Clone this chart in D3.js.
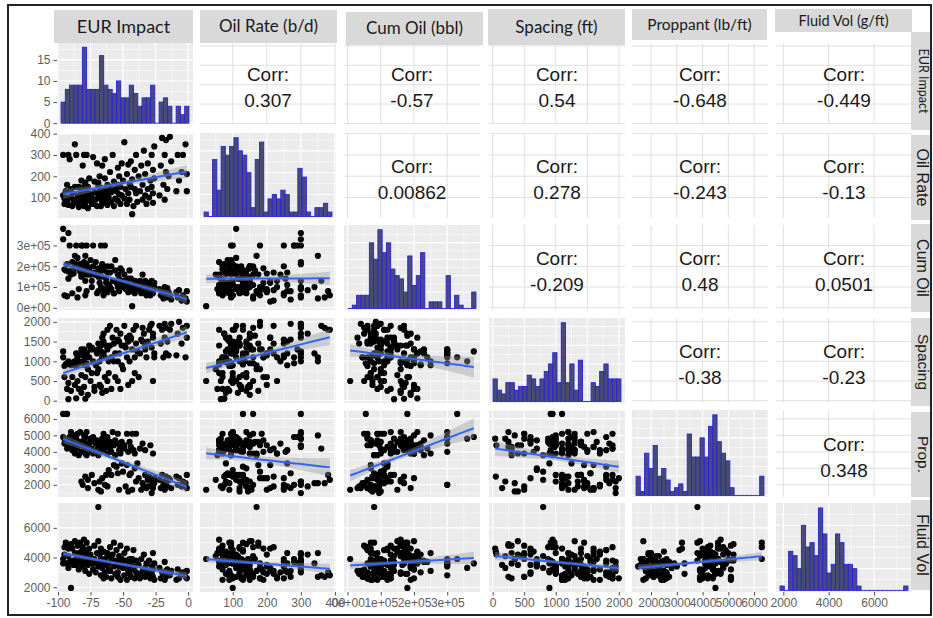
<!DOCTYPE html>
<html>
<head>
<meta charset="utf-8">
<script src="https://cdn.jsdelivr.net/npm/d3@7"></script>
<style>
  body { margin: 0; background: #fff; }
  svg { display: block; }
</style>
</head>
<body>
<svg id="chart" width="933" height="618"></svg>
<script>
// column headers (top strips) and row labels (right strips)
const colLabels = ["EUR Impact", "Oil Rate (b/d)", "Cum Oil (bbl)", "Spacing (ft)", "Proppant (lb/ft)", "Fluid Vol (g/ft)"];
const rowLabels = ["EUR Impact", "Oil Rate", "Cum Oil", "Spacing", "Prop.", "Fluid Vol"];

// one value per well, wells sorted by EUR impact
const eurImpact = [
  -96,-96,-95,-95,-94,-93,-93,-92,-92,-92,
  -91,-90,-90,-89,-89,-88,-87,-87,-86,-86,
  -86,-85,-85,-84,-84,-83,-83,-82,-82,-82,
  -81,-81,-80,-80,-80,-80,-79,-79,-79,-79,
  -78,-78,-78,-77,-77,-76,-76,-75,-75,-74,
  -74,-73,-73,-72,-72,-71,-70,-70,-69,-69,
  -69,-68,-68,-67,-67,-67,-66,-66,-66,-65,
  -65,-65,-64,-64,-63,-63,-62,-62,-62,-61,
  -61,-60,-60,-59,-59,-58,-57,-57,-56,-56,
  -55,-54,-54,-54,-53,-53,-52,-52,-51,-51,
  -50,-49,-49,-48,-47,-47,-46,-46,-45,-45,
  -44,-44,-43,-43,-42,-41,-41,-40,-40,-39,
  -38,-37,-36,-35,-35,-34,-33,-33,-32,-31,
  -31,-30,-29,-28,-28,-27,-27,-27,-26,-26,
  -22,-21,-20,-19,-18,-18,-17,-17,-16,-15,
  -14,-13,-9,-8,-7,-5,-4,-2,-1,-1
];
const oilRate = [
  110,300,95,70,130,85,160,100,300,65,
  280,100,140,60,120,80,350,150,90,75,
  300,110,95,150,55,90,100,130,180,80,
  120,250,300,150,60,110,100,170,75,130,
  300,100,95,150,50,120,190,85,110,70,
  100,290,70,175,125,90,260,60,155,110,
  170,130,200,95,145,60,115,250,80,100,
  140,75,190,280,120,90,160,105,65,135,
  100,220,150,80,125,300,60,175,140,95,
  130,240,85,160,115,200,70,150,260,110,
  180,95,360,140,70,210,120,255,165,90,
  150,270,22,185,60,230,140,300,120,80,
  200,130,250,90,160,320,110,210,70,140,
  260,100,180,300,150,75,230,120,190,340,
  110,250,380,160,300,90,220,370,140,200,
  385,270,130,300,180,220,300,350,130,210
];
// thousand bbl
const cumOil = [
  380,330,60,185,180,210,55,175,360,140,
  300,180,160,220,70,165,250,200,190,210,
  300,240,50,200,90,175,210,150,300,160,
  180,300,220,200,160,200,60,250,170,130,
  210,300,80,190,160,175,190,230,160,100,
  130,300,200,160,170,220,170,70,150,190,
  80,120,165,300,100,150,190,200,210,60,
  85,180,90,300,140,120,200,170,75,95,
  110,170,100,90,200,130,70,70,180,230,
  120,160,100,110,140,80,130,190,110,180,
  100,160,130,90,90,120,75,140,180,110,
  140,80,8,100,110,130,70,90,100,120,
  90,130,70,110,160,85,100,130,60,120,
  80,110,60,95,130,70,100,85,120,100,
  90,60,80,45,100,70,85,50,95,75,
  60,40,75,50,85,35,60,45,80,30
];
const spacing = [
  1250,1100,880,600,920,300,950,450,1000,40,
  950,900,250,920,600,980,1000,400,880,60,
  1200,1100,500,950,300,980,1200,650,1300,200,
  1000,1150,1250,350,950,1300,600,900,50,1100,
  1200,1200,950,150,800,1400,1100,1300,500,700,
  1350,1300,1000,250,350,900,1200,700,1300,1450,
  800,1000,400,1250,350,1400,200,1100,1600,1500,
  1200,1700,600,1100,1400,250,1300,1800,500,1000,
  700,1900,1400,1100,300,1600,1000,1450,600,1200,
  1800,1000,1550,500,1500,1200,300,1700,900,1400,
  800,1400,1900,1350,1100,1600,400,1500,1650,1000,
  1600,1550,500,1300,1800,1100,700,1900,1450,1250,
  600,1200,1550,1500,1850,1700,1400,1300,1100,1450,
  1500,1800,1900,1950,1350,1700,500,1600,1100,1200,
  1900,1450,1800,1100,1950,1600,1200,1850,1500,1150,
  1800,1950,1150,1700,2000,1450,1850,1100,1900,1600
];
const proppant = [
  4900,6300,4800,4500,6300,4200,6300,4400,4800,4800,
  4900,4500,5200,4100,4700,4300,5000,3900,4600,4400,
  4800,4200,5100,4400,3800,4600,5200,4000,4500,2200,
  4600,2000,4300,5000,4700,4100,4900,3900,2500,4500,
  4400,5200,3800,1800,2300,4500,4000,4700,4800,4200,
  2600,4900,3900,4600,2100,4500,4100,4700,1700,4300,
  3800,2200,4400,4000,1600,4600,4800,2400,4300,5100,
  4500,4100,4700,2000,2600,4300,3900,4900,1900,4400,
  2900,4200,4600,2600,4000,5200,4400,3200,4700,3800,
  3100,4500,2700,5100,4100,1700,4300,3900,3300,4600,
  2800,4400,4200,1900,5100,3200,1600,4000,4600,2600,
  4300,2700,1700,5100,4100,3900,3000,5100,2200,3300,
  2400,4200,1700,2100,4500,1900,2600,4100,1800,2300,
  1900,2500,4400,1500,2200,2000,3900,1800,2400,2100,
  2300,1800,2600,2000,2200,1700,2500,2100,1900,2400,
  2300,1800,2500,2000,2400,1900,2200,2100,2600,1800
];
const fluidVol = [
  3600,3900,4700,4200,5000,3600,4700,4100,3300,4600,
  3700,1950,4900,3800,4600,3500,4300,5100,3900,4200,
  3500,3700,4800,3200,4300,5000,3900,4400,3600,4100,
  4700,3400,4200,3900,5200,3600,4500,3100,4400,3800,
  4300,3800,5000,3500,4100,2900,4600,3700,4200,3900,
  3600,3600,3200,4800,3900,3000,4300,3700,5100,3400,
  7400,3500,4200,2800,3900,4600,3300,3700,4400,2600,
  3800,4400,3000,3900,3500,2700,4100,3600,4300,3200,
  3600,4700,3100,3900,2600,4200,3400,5000,2900,3800,
  4500,3000,3700,2700,4100,3400,4800,2500,3600,3900,
  3300,4300,2800,3800,2500,4600,3500,3100,3900,2900,
  3700,2700,3900,3200,4500,2600,3400,3800,3000,2900,
  3500,2600,3900,3100,2900,4200,2700,3300,3600,2800,
  3000,3800,2600,3400,2900,4300,2700,3200,2500,3600,
  3300,2600,3000,2800,3700,2500,3100,2700,3200,2900,
  2800,3100,2500,3200,2600,2900,3000,2700,2600,3100
];

// diagonal histogram counts, 30 bins each
const histEUR = [5,8,9,9,9,18,8,8,8,16,9,8,7,10,6,6,9,7,4,6,6,9,0,5,6,4,0,4,2,4];
const histOil = [1,0,13,6,16,14,16,18,15,14,10,2,13,17,1,4,5,4,6,5,1,1,11,9,1,0,2,2,3,1];
const histCum = [0,1,4,4,4,20,15,24,17,20,12,10,9,5,16,7,10,17,0,2,2,2,0,10,0,4,1,0,0,5];
const histSpacing = [6,3,2,5,5,3,4,4,7,6,4,6,8,10,13,5,21,5,10,3,11,0,0,5,4,8,10,6,6,6];
const histProp = [5,1,11,7,13,5,7,4,1,2,3,1,16,10,10,15,10,18,21,14,11,9,2,0,0,0,0,0,0,5];
const histFluid = [1,0,9,8,5,15,10,11,8,19,13,4,6,13,11,6,6,5,1,0,0,0,0,0,0,0,0,0,0,1];

// correlations, upper triangle row by row
const corrText = ["0.307","-0.57","0.54","-0.648","-0.449",
                  "0.00862","0.278","-0.243","-0.13",
                  "-0.209","0.48","0.0501",
                  "-0.38","-0.23",
                  "0.348"];

// tick values
const ticksEUR = [-100,-75,-50,-25,0];
const ticksOil = [100,200,300,400];
const ticksCum = [0,100,200,300];
const ticksSpacing = [0,500,1000,1500,2000];
const ticksProp = [2000,3000,4000,5000,6000];
const ticksFluid = [2000,4000,6000];
const ticksCount = [0,5,10,15];

// ---------------- layout ----------------
const colX = [57, 200, 344, 489, 632, 776];
const colW = 136;
const rowY = [[43,124],[133,218],[225,310],[318,403],[410,497],[503,592]];
const headStrips = [[54,193,10,43,18],[200,337,10,43,17],[346,483,12,45,17],[488,625,9,45,17],[632,767,9,40,15.5],[775,912,9,32,14.5]];
const sideStrips = [[32,130,12.5],[135,220,16],[224,312,16],[318,406,15.5],[412,497,15.5],[500,590,16]];

const vars = [eurImpact, oilRate, cumOil, spacing, proppant, fluidVol];
const hists = [histEUR, histOil, histCum, histSpacing, histProp, histFluid];
const ticks = [ticksEUR, ticksOil, ticksCum, ticksSpacing, ticksProp, ticksFluid];
const n = d3.min(vars, v => v.length);
vars.forEach((v, k) => vars[k] = v.slice(0, n));

const fmtCum = d => (d * 1000).toExponential(0).replace(/e\+(\d)$/, "e+0$1");
const fmts = [String, String, fmtCum, String, String, String];

function padded(v) {
  const e = d3.extent(v), r = e[1] - e[0];
  return [e[0] - 0.05 * r, e[1] + 0.05 * r];
}
const xScales = vars.map((v, j) => d3.scaleLinear().domain(padded(v)).range([colX[j], colX[j] + colW]));
const yScales = vars.map((v, i) => d3.scaleLinear().domain(padded(v)).range([rowY[i][1], rowY[i][0]]));
const diagY = hists.map((h, i) => {
  const m = d3.max(h);
  const dom = i === 0 ? [-0.2, 19] : [-0.02 * m, 1.06 * m];
  return d3.scaleLinear().domain(dom).range([rowY[i][1], rowY[i][0]]);
});

function minorOf(major, scale) {
  const step = major[1] - major[0], dom = scale.domain();
  const out = [];
  for (let t = major[0] - step / 2; t <= dom[1]; t += step) if (t >= dom[0]) out.push(t);
  return out;
}
function inDomain(vals, scale) {
  const d = scale.domain();
  return vals.filter(t => t >= d[0] && t <= d[1]);
}

function linFit(xs, ys) {
  const mx = d3.mean(xs), my = d3.mean(ys);
  let sxx = 0, sxy = 0;
  xs.forEach((x, k) => { sxx += (x - mx) ** 2; sxy += (x - mx) * (ys[k] - my); });
  const b = sxy / sxx, a = my - b * mx;
  let sse = 0;
  xs.forEach((x, k) => { sse += (ys[k] - a - b * x) ** 2; });
  return { a, b, mx, sxx, s: Math.sqrt(sse / (xs.length - 2)), n: xs.length };
}

const svg = d3.select("#chart");
svg.append("rect").attr("width", 933).attr("height", 618).attr("fill", "#fff");
const defs = svg.append("defs");

const TICK_FONT = "'Liberation Sans', Arial, sans-serif";
let ci = 0;

for (let i = 0; i < 6; i++) {
  for (let j = 0; j < 6; j++) {
    const x0 = colX[j], y0 = rowY[i][0], y1 = rowY[i][1];
    const id = `clip-${i}-${j}`;
    defs.append("clipPath").attr("id", id).append("rect")
      .attr("x", x0).attr("y", y0).attr("width", colW).attr("height", y1 - y0);
    const g = svg.append("g").attr("clip-path", `url(#${id})`);
    const xs = xScales[j];
    const ys = i === j ? diagY[i] : yScales[i];

    if (i < j) {
      // correlation panel
      g.append("rect").attr("x", x0).attr("y", y0).attr("width", colW).attr("height", y1 - y0).attr("fill", "#fff");
      inDomain(ticks[j], xs).forEach(t => g.append("line")
        .attr("x1", xs(t)).attr("x2", xs(t)).attr("y1", y0).attr("y2", y1)
        .attr("stroke", "#e0e0e0").attr("stroke-width", 1));
      inDomain(ticks[i], yScales[i]).forEach(t => g.append("line")
        .attr("x1", x0).attr("x2", x0 + colW).attr("y1", yScales[i](t)).attr("y2", yScales[i](t))
        .attr("stroke", "#e0e0e0").attr("stroke-width", 1));
      const cx = x0 + colW / 2, cy = (y0 + y1) / 2;
      g.append("text").attr("x", cx).attr("y", cy - 9).attr("dy", "0.35em")
        .attr("text-anchor", "middle").attr("font-family", TICK_FONT).attr("font-size", 19)
        .attr("fill", "#1a1a1a").text("Corr:");
      g.append("text").attr("x", cx).attr("y", cy + 17).attr("dy", "0.35em")
        .attr("text-anchor", "middle").attr("font-family", TICK_FONT).attr("font-size", 19)
        .attr("fill", "#1a1a1a").text(corrText[ci++]);
      continue;
    }

    // grey panel with white grid
    g.append("rect").attr("x", x0).attr("y", y0).attr("width", colW).attr("height", y1 - y0).attr("fill", "#ebebeb");
    const yGridScale = i === j ? diagY[i] : yScales[i];
    const yGridMaj = i === j ? (i === 0 ? ticksCount : d3.ticks(0, d3.max(hists[i]), 4)) : ticks[i];
    minorOf(ticks[j], xs).forEach(t => g.append("line")
      .attr("x1", xs(t)).attr("x2", xs(t)).attr("y1", y0).attr("y2", y1)
      .attr("stroke", "#fff").attr("stroke-width", 0.5));
    minorOf(yGridMaj, yGridScale).forEach(t => g.append("line")
      .attr("x1", x0).attr("x2", x0 + colW).attr("y1", yGridScale(t)).attr("y2", yGridScale(t))
      .attr("stroke", "#fff").attr("stroke-width", 0.5));
    inDomain(ticks[j], xs).forEach(t => g.append("line")
      .attr("x1", xs(t)).attr("x2", xs(t)).attr("y1", y0).attr("y2", y1)
      .attr("stroke", "#fff").attr("stroke-width", 1.1));
    inDomain(yGridMaj, yGridScale).forEach(t => g.append("line")
      .attr("x1", x0).attr("x2", x0 + colW).attr("y1", yGridScale(t)).attr("y2", yGridScale(t))
      .attr("stroke", "#fff").attr("stroke-width", 1.1));

    if (i === j) {
      // histogram
      const h = hists[i], e = d3.extent(vars[i]);
      const w = (e[1] - e[0]) / (h.length - 1);
      g.selectAll("rect.bar").data(h).join("rect").attr("class", "bar")
        .attr("x", (c, k) => xs(e[0] - w / 2 + k * w))
        .attr("width", (c, k) => xs(e[0] - w / 2 + (k + 1) * w) - xs(e[0] - w / 2 + k * w))
        .attr("y", c => ys(c))
        .attr("height", c => Math.max(0.01, ys(0) - ys(c)))
        .attr("fill", "#4a4a74").attr("stroke", "#2424e0").attr("stroke-width", 0.9);
      continue;
    }

    // scatter with linear fit and 95% band
    const px = vars[j], py = vars[i];
    g.selectAll("circle").data(d3.range(n)).join("circle")
      .attr("cx", k => xs(px[k])).attr("cy", k => ys(py[k])).attr("r", 3.1).attr("fill", "#000");
    const fit = linFit(px, py);
    const ex = d3.extent(px);
    const xsamp = d3.range(61).map(k => ex[0] + (ex[1] - ex[0]) * k / 60);
    const se = x => 1.975 * fit.s * Math.sqrt(1 / fit.n + (x - fit.mx) ** 2 / fit.sxx);
    g.append("path").datum(xsamp)
      .attr("d", d3.area().x(x => xs(x)).y0(x => ys(fit.a + fit.b * x - se(x))).y1(x => ys(fit.a + fit.b * x + se(x))))
      .attr("fill", "#999").attr("fill-opacity", 0.4);
    g.append("path").datum(xsamp)
      .attr("d", d3.line().x(x => xs(x)).y(x => ys(fit.a + fit.b * x)))
      .attr("fill", "none").attr("stroke", "#3366ff").attr("stroke-width", 2);
  }
}

// axes
function styleAxis(sel) {
  sel.attr("font-family", TICK_FONT).attr("font-size", 12);
  sel.select(".domain").remove();
  sel.selectAll(".tick line").attr("stroke", "#4d4d4d");
  sel.selectAll(".tick text").attr("fill", "#5e5e5e");
}
for (let i = 0; i < 6; i++) {
  const sc = i === 0 ? diagY[0] : yScales[i];
  const tv = i === 0 ? ticksCount : inDomain(ticks[i], sc);
  svg.append("g").attr("transform", `translate(${colX[0]},0)`)
    .call(d3.axisLeft(sc).tickValues(tv).tickFormat(fmts[i]).tickSize(3.5).tickPadding(3))
    .call(styleAxis);
}
for (let j = 0; j < 6; j++) {
  const sc = xScales[j];
  svg.append("g").attr("transform", `translate(0,${rowY[5][1]})`)
    .call(d3.axisBottom(sc).tickValues(inDomain(ticks[j], sc)).tickFormat(fmts[j]).tickSize(3.5).tickPadding(3))
    .call(styleAxis);
}

// header strips
headStrips.forEach((s, j) => {
  svg.append("rect").attr("x", s[0]).attr("y", s[2]).attr("width", s[1] - s[0]).attr("height", s[3] - s[2]).attr("fill", "#d9d9d9");
  svg.append("text").attr("x", (s[0] + s[1]) / 2).attr("y", (s[2] + s[3]) / 2).attr("dy", "0.35em")
    .attr("text-anchor", "middle").attr("font-family", "Lato, 'Open Sans', sans-serif")
    .attr("font-size", s[4]).attr("fill", "#1a1a1a").text(colLabels[j]);
});
sideStrips.forEach((s, i) => {
  svg.append("rect").attr("x", 911).attr("y", s[0]).attr("width", 22).attr("height", s[1] - s[0]).attr("fill", "#d9d9d9");
  const cy = (s[0] + s[1]) / 2;
  svg.append("text").attr("transform", `translate(923,${cy}) rotate(90)`).attr("dy", "0.35em")
    .attr("text-anchor", "middle")
    .attr("font-family", i === 0 ? "Lato, sans-serif" : TICK_FONT)
    .attr("font-size", s[2]).attr("fill", "#1a1a1a").text(rowLabels[i]);
});

// picture frame
svg.append("rect").attr("x", 931).attr("y", 0).attr("width", 2).attr("height", 618).attr("fill", "#fff");
svg.append("rect").attr("x", 8).attr("y", 5).attr("width", 923).attr("height", 610)
  .attr("fill", "none").attr("stroke", "#222").attr("stroke-width", 2);
</script>
</body>
</html>
